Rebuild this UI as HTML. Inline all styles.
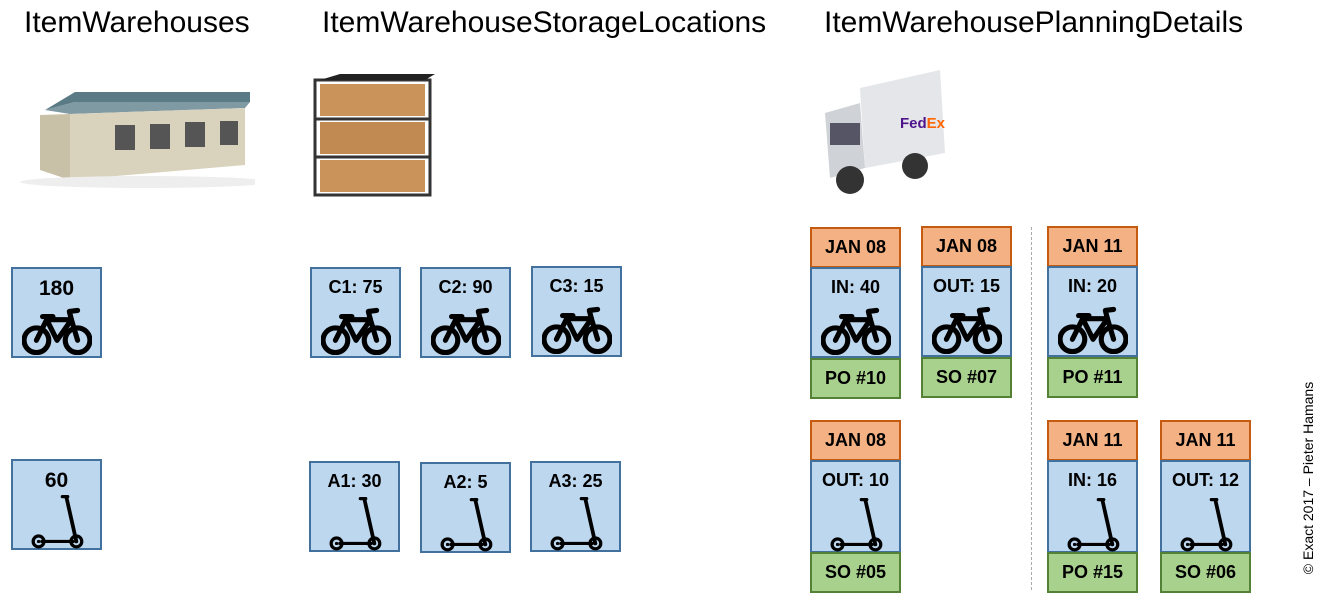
<!DOCTYPE html>
<html><head><meta charset="utf-8"><style>
body{margin:0;width:1324px;height:600px;background:#fff;position:relative;overflow:hidden;font-family:"Liberation Sans",sans-serif}
.t{position:absolute;top:6px;font-size:30px;color:#000;white-space:nowrap}
.b{position:absolute;box-sizing:border-box;background:#bdd7ee;border:2px solid #41719c;width:91px;height:91px}
.b .l{position:absolute;left:0;right:0;top:8px;text-align:center;font-weight:bold;font-size:18px}
.o{position:absolute;box-sizing:border-box;background:#f4b183;border:2px solid #c55a11;width:91px;height:41px;text-align:center;font-weight:bold;font-size:18px;line-height:37px}
.g{position:absolute;box-sizing:border-box;background:#a9d18e;border:2px solid #538135;width:91px;height:41px;text-align:center;font-weight:bold;font-size:18px;line-height:37px}
.b svg{position:absolute}
</style></head><body>
<div class="t" style="left:24px">ItemWarehouses</div>
<div class="t" style="left:322px">ItemWarehouseStorageLocations</div>
<div class="t" style="left:824px">ItemWarehousePlanningDetails</div>

<!-- building -->
<svg style="position:absolute;left:15px;top:80px" width="240" height="110">
<polygon points="30,30 60,12 235,12 235,22 60,22" fill="#5a7a85"/>
<polygon points="30,30 60,22 235,22 230,28 55,34" fill="#7f9aa3"/>
<polygon points="55,34 230,28 230,85 55,100" fill="#d9d2bd"/>
<polygon points="25,35 55,34 55,100 25,90" fill="#c9c0a8"/>
<rect x="100" y="45" width="20" height="25" fill="#555"/><rect x="135" y="44" width="20" height="25" fill="#555"/><rect x="170" y="42" width="20" height="25" fill="#555"/><rect x="205" y="41" width="18" height="24" fill="#555"/>
<ellipse cx="130" cy="102" rx="125" ry="6" fill="#eee"/>
</svg>
<!-- shelf -->
<svg style="position:absolute;left:310px;top:72px" width="125" height="130">
<rect x="5" y="8" width="115" height="115" fill="none" stroke="#333" stroke-width="3"/>
<rect x="10" y="12" width="105" height="32" fill="#c9935a"/><rect x="10" y="50" width="105" height="32" fill="#c08a52"/><rect x="10" y="88" width="105" height="32" fill="#c9935a"/>
<line x1="5" y1="47" x2="120" y2="47" stroke="#333" stroke-width="3"/><line x1="5" y1="85" x2="120" y2="85" stroke="#333" stroke-width="3"/>
<polygon points="10,8 30,2 125,2 115,8" fill="#222"/>
</svg>
<!-- truck -->
<svg style="position:absolute;left:815px;top:68px" width="135" height="135">
<polygon points="45,20 125,2 130,85 50,100" fill="#e4e6ea"/>
<polygon points="10,45 45,35 50,100 15,110" fill="#cfd3d8"/>
<rect x="15" y="55" width="30" height="22" fill="#556"/>
<text x="85" y="60" font-family="Liberation Sans" font-weight="bold" font-size="15" fill="#4d148c">Fed<tspan fill="#ff6600">Ex</tspan></text>
<circle cx="35" cy="112" r="14" fill="#333"/><circle cx="100" cy="98" r="13" fill="#333"/>
</svg>

<svg width="0" height="0" style="position:absolute">
<defs>
<g id="bike"><g fill="none" stroke="#000" stroke-width="5" stroke-linecap="round" stroke-linejoin="round"><circle cx="14" cy="32" r="12"/><circle cx="54" cy="32" r="12"/><polyline points="14,32 24,12 48,12 54,32"/><polyline points="24,12 34,32 48,12"/><line x1="20" y1="9" x2="30" y2="9"/><polyline points="48,12 46,4 54,3"/></g></g>
<g id="sc"><g fill="none" stroke="#000" stroke-linecap="round"><circle cx="7" cy="43" r="5" stroke-width="3"/><circle cx="42" cy="43" r="5" stroke-width="3"/><line x1="10" y1="43" x2="39" y2="43" stroke-width="3"/><line x1="42" y1="43" x2="33" y2="3" stroke-width="3.5"/><line x1="29" y1="1.5" x2="34" y2="1.5" stroke-width="3"/></g><circle cx="7" cy="43" r="1.5"/><circle cx="42" cy="43" r="1.5"/></g>
</defs></svg>

<!-- bikes -->
<div class="b" style="left:11px;top:267px"><div class="l" style="font-size:21px">180</div><svg style="left:9px;top:38px" width="70" height="48" viewBox="0 0 68 46"><use href="#bike"/></svg></div>
<div class="b" style="left:310px;top:267px"><div class="l">C1: 75</div><svg style="left:9px;top:38px" width="70" height="48" viewBox="0 0 68 46"><use href="#bike"/></svg></div>
<div class="b" style="left:420px;top:267px"><div class="l">C2: 90</div><svg style="left:9px;top:38px" width="70" height="48" viewBox="0 0 68 46"><use href="#bike"/></svg></div>
<div class="b" style="left:531px;top:266px"><div class="l">C3: 15</div><svg style="left:9px;top:38px" width="70" height="48" viewBox="0 0 68 46"><use href="#bike"/></svg></div>

<!-- scooters -->
<div class="b" style="left:11px;top:459px"><div class="l" style="font-size:21px">60</div><svg style="left:18px;top:34px" width="54" height="54" viewBox="0 0 50 50"><use href="#sc"/></svg></div>
<div class="b" style="left:309px;top:461px"><div class="l">A1: 30</div><svg style="left:18px;top:34px" width="54" height="54" viewBox="0 0 50 50"><use href="#sc"/></svg></div>
<div class="b" style="left:420px;top:462px"><div class="l">A2: 5</div><svg style="left:18px;top:34px" width="54" height="54" viewBox="0 0 50 50"><use href="#sc"/></svg></div>
<div class="b" style="left:530px;top:461px"><div class="l">A3: 25</div><svg style="left:18px;top:34px" width="54" height="54" viewBox="0 0 50 50"><use href="#sc"/></svg></div>

<!-- planning row1 -->
<div class="o" style="left:810px;top:227px">JAN 08</div>
<div class="b" style="left:810px;top:267px"><div class="l">IN: 40</div><svg style="left:9px;top:38px" width="70" height="48" viewBox="0 0 68 46"><use href="#bike"/></svg></div>
<div class="g" style="left:810px;top:358px">PO #10</div>
<div class="o" style="left:921px;top:226px">JAN 08</div>
<div class="b" style="left:921px;top:266px"><div class="l">OUT: 15</div><svg style="left:9px;top:38px" width="70" height="48" viewBox="0 0 68 46"><use href="#bike"/></svg></div>
<div class="g" style="left:921px;top:357px">SO #07</div>
<div class="o" style="left:1047px;top:226px">JAN 11</div>
<div class="b" style="left:1047px;top:266px"><div class="l">IN: 20</div><svg style="left:9px;top:38px" width="70" height="48" viewBox="0 0 68 46"><use href="#bike"/></svg></div>
<div class="g" style="left:1047px;top:357px">PO #11</div>

<!-- planning row2 -->
<div class="o" style="left:810px;top:420px">JAN 08</div>
<div class="b" style="left:810px;top:460px;height:93px"><div class="l">OUT: 10</div><svg style="left:18px;top:36px" width="54" height="54" viewBox="0 0 50 50"><use href="#sc"/></svg></div>
<div class="g" style="left:810px;top:552px">SO #05</div>
<div class="o" style="left:1047px;top:420px">JAN 11</div>
<div class="b" style="left:1047px;top:460px;height:93px"><div class="l">IN: 16</div><svg style="left:18px;top:36px" width="54" height="54" viewBox="0 0 50 50"><use href="#sc"/></svg></div>
<div class="g" style="left:1047px;top:552px">PO #15</div>
<div class="o" style="left:1160px;top:420px">JAN 11</div>
<div class="b" style="left:1160px;top:460px;height:93px"><div class="l">OUT: 12</div><svg style="left:18px;top:36px" width="54" height="54" viewBox="0 0 50 50"><use href="#sc"/></svg></div>
<div class="g" style="left:1160px;top:552px">SO #06</div>

<div style="position:absolute;left:1031px;top:227px;height:363px;border-left:1px dashed #aaa"></div>
<div style="position:absolute;left:1308px;top:478px;transform:translate(-50%,-50%) rotate(-90deg);font-size:14px;white-space:nowrap;color:#000">© Exact 2017 – Pieter Hamans</div>
</body></html>
